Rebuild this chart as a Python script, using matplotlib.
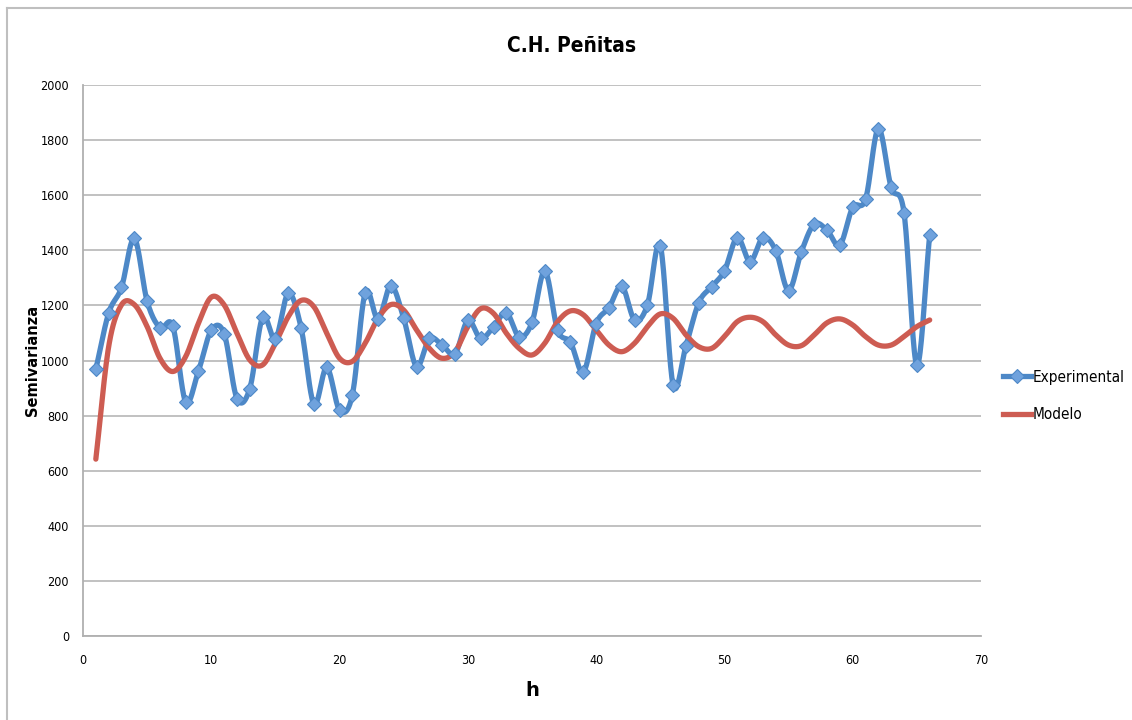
import numpy as np
import matplotlib.pyplot as plt
from matplotlib.lines import Line2D
from matplotlib import font_manager

# Semivariograma experimental y modelo, C.H. Peñitas
h = list(range(1, 67))
experimental = [968, 1172, 1265, 1443, 1215, 1119, 1125, 850, 962, 1110,
                1098, 862, 898, 1157, 1078, 1244, 1119, 841, 975, 820,
                876, 1246, 1150, 1272, 1153, 978, 1080, 1056, 1024, 1146,
                1080, 1122, 1174, 1086, 1138, 1325, 1110, 1066, 958, 1134,
                1192, 1270, 1147, 1202, 1417, 911, 1053, 1210, 1268, 1325,
                1446, 1359, 1446, 1399, 1254, 1395, 1495, 1473, 1419, 1556,
                1585, 1842, 1628, 1536, 983, 1455]
modelo = [642, 1050, 1202, 1203, 1123, 1008, 960, 1014, 1135, 1230,
          1202, 1099, 1002, 984, 1063, 1159, 1218, 1195, 1099, 1008,
          997, 1063, 1153, 1203, 1183, 1111, 1044, 1008, 1032, 1123,
          1188, 1171, 1099, 1044, 1020, 1063, 1141, 1180, 1166, 1111,
          1056, 1032, 1063, 1123, 1169, 1153, 1093, 1050, 1044, 1087,
          1141, 1157, 1141, 1093, 1056, 1054, 1093, 1137, 1151, 1129,
          1087, 1056, 1056, 1087, 1123, 1147]

x_ticks = [0, 10, 20, 30, 40, 50, 60, 70]
y_ticks = [0, 200, 400, 600, 800, 1000, 1200, 1400, 1600, 1800, 2000]

blue = '#4d88c7'
red = '#cd5c52'


def smooth(x, y, n=20):
    # Catmull-Rom curve through the points, like the "smoothed line" option
    x = np.asarray(x, float)
    y = np.asarray(y, float)
    px = np.concatenate([[2 * x[0] - x[1]], x, [2 * x[-1] - x[-2]]])
    py = np.concatenate([[2 * y[0] - y[1]], y, [2 * y[-1] - y[-2]]])
    t = np.linspace(0, 1, n, endpoint=False)
    xs, ys = [], []
    for i in range(1, len(px) - 2):
        for p, out in ((px, xs), (py, ys)):
            p0, p1, p2, p3 = p[i - 1], p[i], p[i + 1], p[i + 2]
            out.extend(0.5 * (2 * p1 + (-p0 + p2) * t
                              + (2 * p0 - 5 * p1 + 4 * p2 - p3) * t ** 2
                              + (-p0 + 3 * p1 - 3 * p2 + p3) * t ** 3))
    xs.append(x[-1])
    ys.append(y[-1])
    return np.array(xs), np.array(ys)


narrow = font_manager.FontProperties(family='DejaVu Sans', stretch='condensed')

fig = plt.figure(figsize=(11.32, 7.2), dpi=100)
ax = fig.add_axes([83 / 1132, 1 - 636 / 720, 898 / 1132, 551 / 720])

sx, sy = smooth(h, experimental)
ax.plot(sx, sy, color=blue, lw=3.8, solid_capstyle='round', zorder=3)
ax.plot(h, experimental, ls='none', marker='D', ms=7, mfc='#6fa2dd',
        mec=blue, mew=0.8, zorder=4)
mx, my = smooth(h, modelo)
ax.plot(mx, my, color=red, lw=3.8, solid_capstyle='round', zorder=3)

ax.set_xlim(0, 70)
ax.set_ylim(0, 2000)
ax.set_xticks(x_ticks)
ax.set_yticks(y_ticks)
ax.tick_params(axis='y', length=0, pad=10)
ax.tick_params(axis='x', length=0, pad=13)
for lab in ax.get_xticklabels() + ax.get_yticklabels():
    lab.set_fontproperties(narrow)
    lab.set_fontsize(9)
ax.grid(axis='y', color='#bcbcbc', lw=1.3)
ax.set_axisbelow(True)
for s in ['top', 'right']:
    ax.spines[s].set_visible(False)
for s in ['left', 'bottom']:
    ax.spines[s].set_color('#b0b0b0')
    ax.spines[s].set_linewidth(1.3)

title = fig.text(572 / 1132, 1 - 46 / 720, 'C.H. Peñitas', ha='center',
                 va='center', fontproperties=narrow)
title.set_fontsize(15)
title.set_fontweight('bold')
fig.text(33 / 1132, 1 - 360 / 720, 'Semivarianza', rotation=90, ha='center',
         va='center', fontsize=10.5, fontweight='bold')
fig.text(532 / 1132, 1 - 690 / 720, 'h', ha='center', va='center',
         fontsize=14, fontweight='bold')

handles = [Line2D([], [], color=blue, lw=3.8, marker='D', ms=7,
                  mfc='#6fa2dd', mec=blue, mew=0.8),
           Line2D([], [], color=red, lw=3.8)]
leg_font = narrow.copy()
leg_font.set_size(11)
fig.legend(handles, ['Experimental', 'Modelo'], loc='center left',
           bbox_to_anchor=(1003 / 1132, 1 - 396 / 720), frameon=False,
           borderpad=0, borderaxespad=0, handlelength=1.8,
           handletextpad=0.15, labelspacing=1.5, prop=leg_font)

# chart area border
fig.add_artist(Line2D([6.5 / 1132, 6.5 / 1132], [0, 1 - 7.5 / 720],
                      color='#bfbfbf', lw=1.5, transform=fig.transFigure))
fig.add_artist(Line2D([6.5 / 1132, 1], [1 - 7.5 / 720, 1 - 7.5 / 720],
                      color='#bfbfbf', lw=1.5, transform=fig.transFigure))

fig.savefig('out.png', dpi=100)
